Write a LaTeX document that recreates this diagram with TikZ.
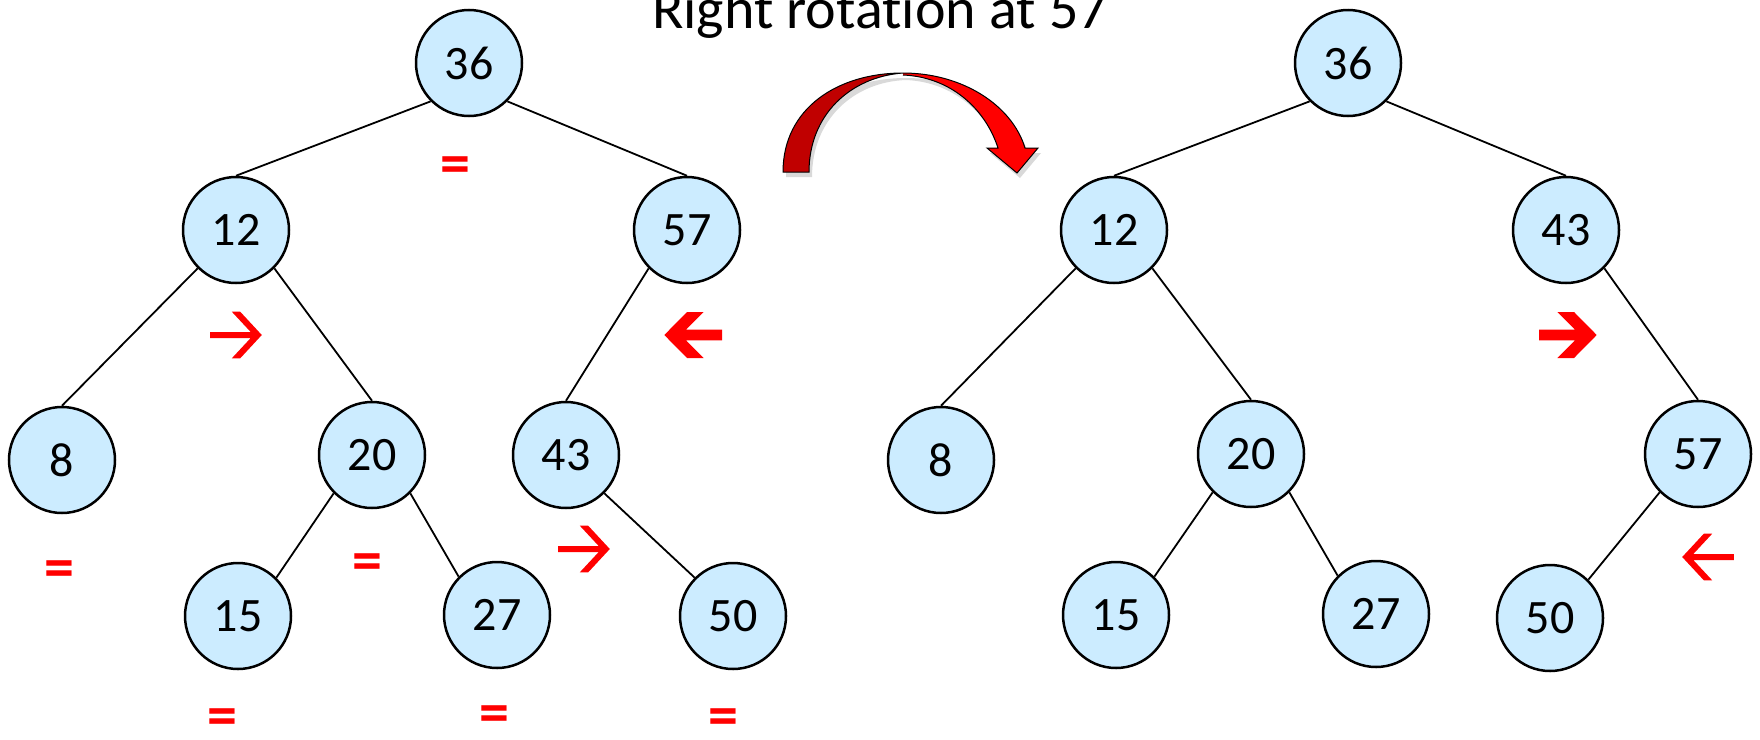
\documentclass[tikz,border=0pt]{standalone}
\usepackage{fontspec}
\setmainfont{Carlito}[Ligatures=NoCommon]
\usepackage{xcolor}
\definecolor{NodeFill}{HTML}{CCECFF}
\definecolor{MarkRed}{HTML}{FF0000}
\definecolor{ArcDark}{HTML}{C00000}
% red turn marks: centre x, centre y, direction (1 right, -1 left)
\newcommand{\thinturn}[3]{\fill[MarkRed, shift={(#1,#2)}, xscale=#3] (25.8,0) -- (4.2,-23.3) -- (-4.2,-23.3) -- (14.7,-3) -- (-25.8,-3) -- (-25.8,3) -- (14.7,3) -- (-4.2,23.3) -- (4.2,23.3) -- cycle;}
\newcommand{\boldturn}[3]{\fill[MarkRed, shift={(#1,#2)}, xscale=#3] (28.7,0) -- (6,-23) -- (-10.7,-23) -- (7,-5.3) -- (-29,-5.3) -- (-29,5.3) -- (7,5.3) -- (-10.7,23) -- (6,23) -- cycle;}

\begin{document}
\begin{tikzpicture}[x=1pt, y=-1pt,
    bst/.style={circle, draw=black, line width=2.5pt, fill=NodeFill, minimum size=106pt, inner sep=0pt, font=\fontsize{48}{48}\selectfont},
    link/.style={line width=1.8pt},
    balmark/.style={text=MarkRed, inner sep=0pt, font=\fontsize{60}{60}\selectfont\bfseries}]
		\useasboundingbox (0,0) rectangle (1760,739);
		% Title
		\node[anchor=base, font=\fontsize{58}{58}\selectfont] (title) at (880,28) {Right rotation at 57};
		
		% Tree before the rotation
		\node[bst] (l36) at (469,63) {36};
		\node[bst] (l12) at (236,230) {12};
		\node[bst] (l57) at (687,230) {57};
		\node[bst] (l8) at (62,460) {8};
		\node[bst] (l20) at (372,455) {20};
		\node[bst] (l43) at (566,455) {43};
		\node[bst] (l15) at (238,616) {15};
		\node[bst] (l27) at (497,615) {27};
		\node[bst] (l50) at (733,616) {50};
		
		\draw[link] (l36.225) -- (l12.north);
		\draw[link] (l36.315) -- (l57.north);
		\draw[link] (l12.225) -- (l8.north);
		\draw[link] (l12.315) -- (l20.north);
		\draw[link] (l57.225) -- (l43.north);
		\draw[link] (l20.225) -- (l15.45);
		\draw[link] (l20.315) -- (l27.135);
		\draw[link] (l43.315) -- (l50.135);
		
		\node[balmark] (lbal36) at (455,170) {=};
		\node[balmark] (lbal8) at (59,574) {=};
		\node[balmark] (lbal20) at (367,567) {=};
		\node[balmark] (lbal15) at (222,722) {=};
		\node[balmark] (lbal27) at (494,719) {=};
		\node[balmark] (lbal50) at (723,722) {=};
		\thinturn{236}{335}{1}
		\boldturn{693}{335}{-1}
		\thinturn{584}{549}{1}
		
		% Curved arrow
		\fill[black, opacity=0.15] (786,177) .. controls (786,113) and (841,78) .. (906,78) .. controls (965,78) and (1015,110) .. (1028,153) -- (1041,153) -- (1020,178) -- (990,153) -- (1001,153) .. controls (988,113) and (953,82) .. (906,80) .. controls (853,82) and (812,120) .. (812,177) -- cycle;
		\filldraw[fill=ArcDark, draw=black, line width=1pt] (783,172) .. controls (783,108) and (838,73) .. (903,73) .. controls (850,77) and (809,115) .. (809,172) -- cycle;
		\filldraw[fill=MarkRed, draw=black, line width=1pt] (903,73) .. controls (962,73) and (1012,105) .. (1025,148) -- (1038,148) -- (1017,173) -- (987,148) -- (998,148) .. controls (985,108) and (950,77) .. (903,75);
		
		% Tree after the rotation
		\node[bst] (r36) at (1348,63) {36};
		\node[bst] (r12) at (1114,230) {12};
		\node[bst] (r43) at (1566,230) {43};
		\node[bst] (r8) at (941,460) {8};
		\node[bst] (r20) at (1251,454) {20};
		\node[bst] (r57) at (1698,454) {57};
		\node[bst] (r15) at (1116,615) {15};
		\node[bst] (r27) at (1376,614) {27};
		\node[bst] (r50) at (1550,618) {50};
		
		\draw[link] (r36.225) -- (r12.north);
		\draw[link] (r36.315) -- (r43.north);
		\draw[link] (r12.225) -- (r8.north);
		\draw[link] (r12.315) -- (r20.north);
		\draw[link] (r43.315) -- (r57.north);
		\draw[link] (r20.225) -- (r15.45);
		\draw[link] (r20.315) -- (r27.135);
		\draw[link] (r57.225) -- (r50.45);
		
		\boldturn{1568}{335}{1}
		\thinturn{1708}{557}{-1}
	\end{tikzpicture}
\end{document}
